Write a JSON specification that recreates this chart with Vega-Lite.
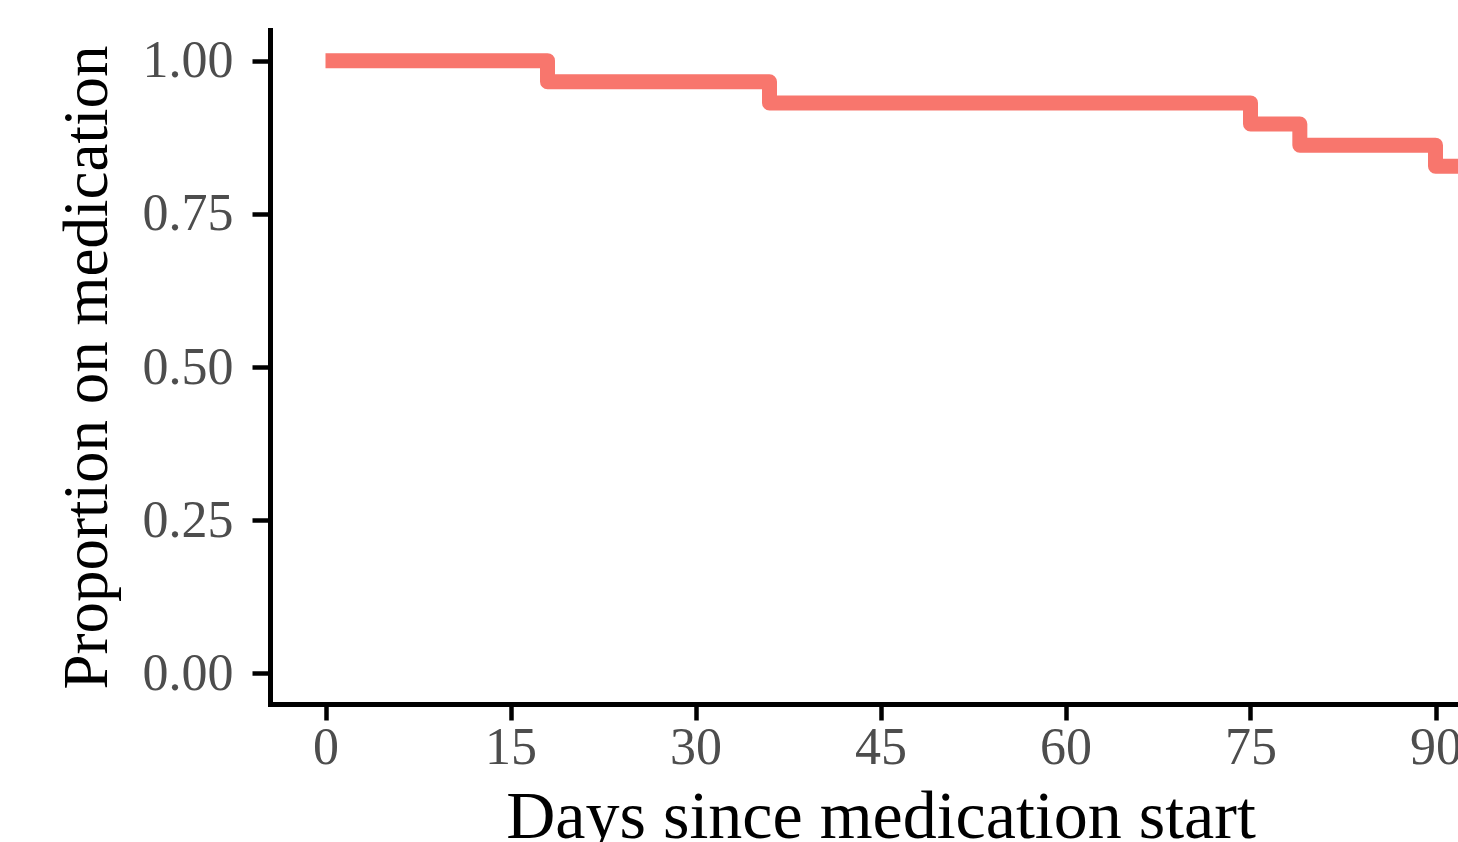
{
  "$schema": "https://vega.github.io/schema/vega-lite/v6.json",
  "width": 1221,
  "height": 674,
  "autosize": {"type": "none"},
  "padding": {"left": 270, "top": 30, "right": 0, "bottom": 140},
  "background": "white",
  "config": {
    "view": {"stroke": null},
    "axis": {
      "grid": false,
      "domainColor": "#000000",
      "domainWidth": 5,
      "domainCap": "square",
      "tickColor": "#000000",
      "tickWidth": 4.5,
      "labelFont": "Liberation Serif",
      "labelFontSize": 52,
      "labelColor": "#4D4D4D",
      "labelFlush": false,
      "labelOverlap": false,
      "titleFont": "Liberation Serif",
      "titleFontWeight": "normal",
      "titleColor": "#000000"
    }
  },
  "data": {
    "values": [
      {"days": 0, "prop": 1.0},
      {"days": 18, "prop": 0.9655},
      {"days": 36, "prop": 0.931},
      {"days": 75, "prop": 0.8966},
      {"days": 79, "prop": 0.8621},
      {"days": 90, "prop": 0.8276},
      {"days": 93, "prop": 0.8276}
    ]
  },
  "mark": {
    "type": "line",
    "interpolate": "step-after",
    "strokeWidth": 15,
    "color": "#F8766D",
    "strokeJoin": "round",
    "strokeCap": "butt"
  },
  "encoding": {
    "x": {
      "field": "days",
      "type": "quantitative",
      "scale": {"domain": [-4.5, 94.5], "nice": false, "zero": false},
      "axis": {
        "values": [0, 15, 30, 45, 60, 75, 90],
        "title": "Days since medication start",
        "titleFontSize": 68,
        "tickSize": 16,
        "labelPadding": 2,
        "titlePadding": 10
      }
    },
    "y": {
      "field": "prop",
      "type": "quantitative",
      "scale": {"domain": [-0.05, 1.05], "nice": false, "zero": false},
      "axis": {
        "values": [0, 0.25, 0.5, 0.75, 1],
        "format": ".2f",
        "title": "Proportion on medication",
        "titleFontSize": 63,
        "tickSize": 18,
        "labelPadding": 19,
        "titlePadding": 23
      }
    }
  }
}
